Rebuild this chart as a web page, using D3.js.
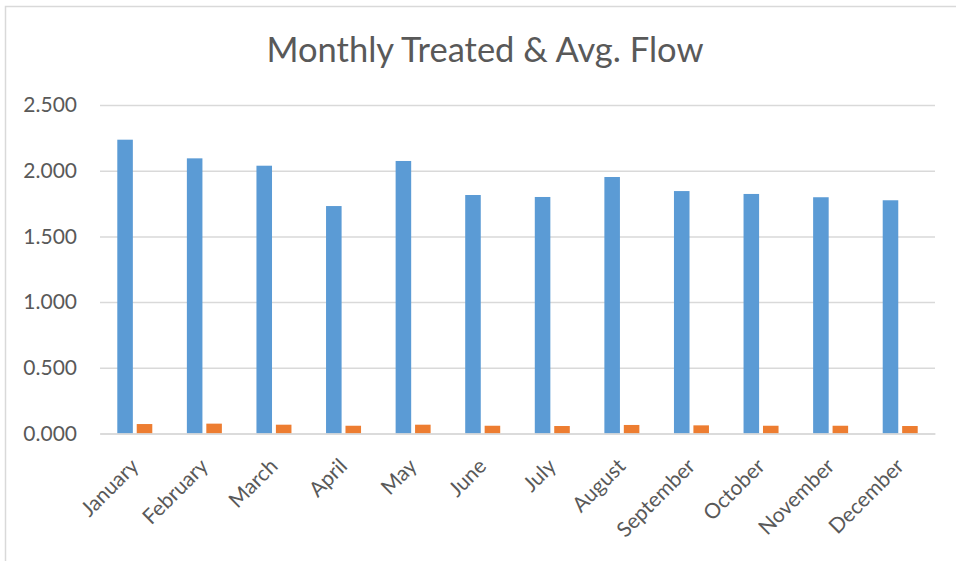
<!DOCTYPE html>
<html lang="en">
<head>
  <meta charset="UTF-8">
  <title>Monthly Treated & Avg. Flow</title>
  <script src="https://d3js.org/d3.v7.min.js"></script>
  <style>
    body { margin: 0; background: #fff; }
    text { font-family: Lato, "Open Sans", sans-serif; fill: #595959; }
  </style>
</head>
<body>
<script>
// chart data
const months = ["January", "February", "March", "April", "May", "June",
  "July", "August", "September", "October", "November", "December"];
const seriesNames = ["Treated", "Avg. Flow"];
const treated = [2.236, 2.094, 2.038, 1.731, 2.074, 1.815, 1.800, 1.952, 1.845, 1.823, 1.798, 1.775];
const avgFlow = [0.072, 0.075, 0.067, 0.059, 0.067, 0.059, 0.057, 0.065, 0.062, 0.059, 0.059, 0.057];
const yTicks = [0, 0.5, 1, 1.5, 2, 2.5];

const colors = ["#5B9BD5", "#ED7D31"];
const width = 956, height = 561;
const plot = { left: 100, right: 935, top: 105, bottom: 433.5 };

const svg = d3.select("body").append("svg")
  .attr("width", width)
  .attr("height", height);

// chart area border (runs off the right and bottom of the picture)
svg.append("rect")
  .attr("x", 5.5).attr("y", 6.5)
  .attr("width", 1000).attr("height", 1000)
  .attr("fill", "none")
  .attr("stroke", "#D9D9D9")
  .attr("stroke-width", 1.5);

svg.append("text")
  .attr("x", 485)
  .attr("y", 62)
  .attr("text-anchor", "middle")
  .style("font-size", "34.5px")
  .text("Monthly Treated & Avg. Flow");

const y = d3.scaleLinear().domain([0, 2.5]).range([plot.bottom, plot.top]);

const x0 = d3.scaleBand()
  .domain(months)
  .range([plot.left, plot.right])
  .paddingInner(0.497)
  .paddingOuter(0.2485);

const x1 = d3.scaleBand()
  .domain(seriesNames)
  .range([0, x0.bandwidth()])
  .paddingInner(0.2);

// gridlines + y labels
const yAxis = svg.append("g")
  .attr("transform", `translate(${plot.left},0)`)
  .call(d3.axisLeft(y)
    .tickValues(yTicks)
    .tickSize(-(plot.right - plot.left))
    .tickPadding(23)
    .tickFormat(d3.format(".3f")));
yAxis.select(".domain").remove();
yAxis.selectAll(".tick line").attr("stroke", "#D9D9D9").attr("stroke-width", 1.5);
yAxis.selectAll(".tick text").style("font-size", "21px").attr("fill", "#595959");

// bars
const rows = months.map((m, i) => ({ month: m, values: [treated[i], avgFlow[i]] }));
const groups = svg.append("g").selectAll("g")
  .data(rows)
  .join("g")
  .attr("transform", d => `translate(${x0(d.month)},0)`);

groups.selectAll("rect")
  .data(d => d.values.map((v, j) => ({ name: seriesNames[j], value: v, j: j })))
  .join("rect")
  .attr("x", d => x1(d.name))
  .attr("width", x1.bandwidth())
  .attr("y", d => y(d.value))
  .attr("height", d => y(0) - y(d.value))
  .attr("fill", d => colors[d.j]);

// category axis
const xAxis = svg.append("g")
  .attr("transform", `translate(0,${plot.bottom})`)
  .call(d3.axisBottom(x0).tickSize(0).tickPadding(0));
xAxis.select(".domain").attr("stroke", "#D9D9D9").attr("stroke-width", 1.5);
xAxis.selectAll(".tick text")
  .style("font-size", "21px")
  .attr("fill", "#595959")
  .attr("text-anchor", "end")
  .attr("dy", null)
  .attr("y", null)
  .attr("transform", "translate(5,34) rotate(-45)");
</script>
</body>
</html>
